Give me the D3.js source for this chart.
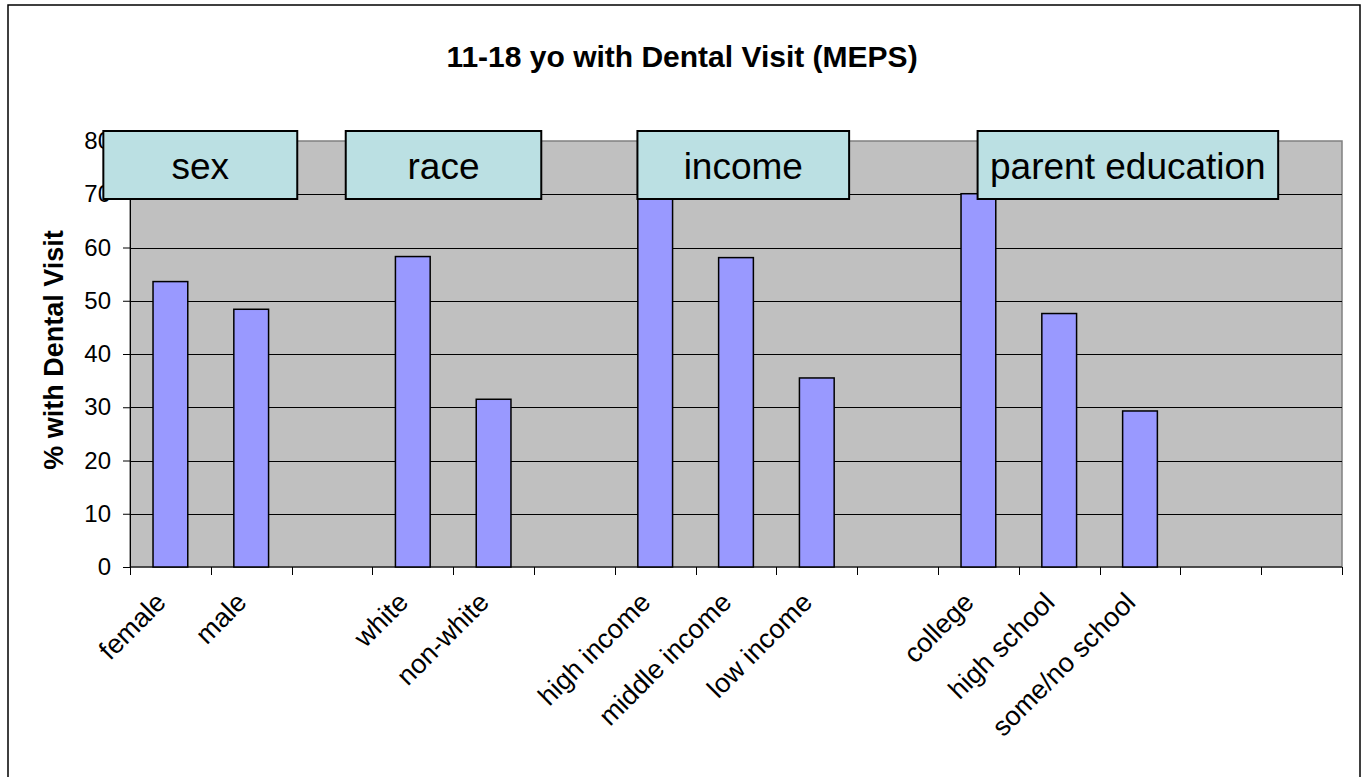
<!DOCTYPE html>
<meta charset="utf-8">
<style>
  body { margin: 0; background: #fff; }
  text { font-family: Arial, "Liberation Sans", sans-serif; }
</style>
<script src="https://d3js.org/d3.v7.min.js"></script>
<div id="chart"></div>
<script>

  // categories (empty slots keep the gaps between groups)
  var categories = ["female", "male", "", "white", "non-white", "",
                    "high income", "middle income", "low income", "",
                    "college", "high school", "some/no school", "", ""];
  var values = [53.6, 48.4, null, 58.3, 31.5, null,
                72, 58.1, 35.5, null,
                70.1, 47.6, 29.3, null, null];
  var yTicks = [0, 10, 20, 30, 40, 50, 60, 70, 80];

  // group boxes: label and the slots they sit over
  var groups = ["sex", "race", "income", "parent education"];
  var groupStart = [-0.33, 2.67, 6.28, 10.49];
  var groupEnd = [2.07, 5.09, 8.9, 14.21];

  var W = 1362, H = 777;
  var margin = {top: 141, right: 20, bottom: 210, left: 130};
  var width = 1342 - margin.left,
      height = 567 - margin.top;

  var svg = d3.select("#chart")
    .append("svg")
      .attr("width", W)
      .attr("height", H);

  // outer chart border
  svg.append("rect")
    .attr("x", 8).attr("y", 5)
    .attr("width", 1352).attr("height", 780)
    .attr("fill", "#fff")
    .attr("stroke", "#000")
    .attr("stroke-width", 1.5);

  svg.append("text")
    .attr("x", 682)
    .attr("y", 67)
    .attr("text-anchor", "middle")
    .style("font-weight", "bold")
    .style("font-size", "30px")
    .text("11-18 yo with Dental Visit (MEPS)");

  var g = svg.append("g")
    .attr("transform", "translate(" + margin.left + "," + margin.top + ")");

  var x = d3.scaleBand()
    .domain(d3.range(categories.length))
    .range([0, width])
    .paddingInner(0.57)
    .paddingOuter(0.285);

  var slot = d3.scaleLinear()
    .domain([0, categories.length])
    .range([0, width]);

  var y = d3.scaleLinear()
    .domain([0, 80])
    .range([height, 0]);

  // plot area
  g.append("rect")
    .attr("width", width)
    .attr("height", height)
    .attr("fill", "#c0c0c0")
    .attr("stroke", "#808080")
    .attr("stroke-width", 1.5);

  // gridlines
  g.append("g")
    .selectAll("line")
    .data(yTicks.slice(1, -1))
    .enter()
    .append("line")
      .attr("x1", 0)
      .attr("x2", width)
      .attr("y1", function (d) { return Math.round(y(d)) + 0.5; })
      .attr("y2", function (d) { return Math.round(y(d)) + 0.5; })
      .attr("stroke", "#000")
      .attr("stroke-width", 1);

  // y axis
  var yAxis = g.append("g")
    .call(d3.axisLeft(y).tickValues(yTicks).tickSize(7).tickPadding(12));
  yAxis.select(".domain").attr("stroke", "#000").attr("stroke-width", 1);
  yAxis.selectAll("text").style("font-size", "24px").attr("fill", "#000")
    .attr("font-family", "Arial, 'Liberation Sans', sans-serif");

  // x axis ticks at slot boundaries
  var xAxis = g.append("g")
    .attr("transform", "translate(0," + height + ")");
  xAxis.append("line")
    .attr("x1", 0).attr("x2", width)
    .attr("stroke", "#000");
  xAxis.selectAll(".tk")
    .data(d3.range(categories.length + 1))
    .enter()
    .append("line")
      .attr("class", "tk")
      .attr("x1", function (d) { return Math.round(slot(d)) + 0.5; })
      .attr("x2", function (d) { return Math.round(slot(d)) + 0.5; })
      .attr("y1", 0)
      .attr("y2", 8)
      .attr("stroke", "#000");

  xAxis.selectAll(".lbl")
    .data(categories)
    .enter()
    .append("text")
      .attr("class", "lbl")
      .attr("text-anchor", "end")
      .attr("transform", function (d, i) {
        return "translate(" + (x(i) + x.bandwidth() / 2 - 3) + ",37)rotate(-45)";
      })
      .style("font-size", "27px")
      .text(function (d) { return d; });

  // bars
  g.append("g")
    .selectAll("rect")
    .data(values.map(function (v, i) { return {i: i, v: v}; })
                .filter(function (d) { return d.v != null; }))
    .enter()
    .append("rect")
      .attr("x", function (d) { return x(d.i); })
      .attr("y", function (d) { return y(d.v); })
      .attr("width", x.bandwidth())
      .attr("height", function (d) { return height - y(d.v); })
      .attr("fill", "#9999ff")
      .attr("stroke", "#000")
      .attr("stroke-width", 1.5);

  // group label boxes
  var boxes = g.append("g")
    .selectAll("g")
    .data(groups)
    .enter()
    .append("g");
  boxes.append("rect")
    .attr("x", function (d, i) { return slot(groupStart[i]); })
    .attr("y", -10)
    .attr("width", function (d, i) { return slot(groupEnd[i]) - slot(groupStart[i]); })
    .attr("height", 68)
    .attr("fill", "#bbe0e3")
    .attr("stroke", "#000")
    .attr("stroke-width", 2);
  boxes.append("text")
    .attr("x", function (d, i) { return (slot(groupStart[i]) + slot(groupEnd[i])) / 2; })
    .attr("y", 38)
    .attr("text-anchor", "middle")
    .style("font-size", "37px")
    .text(function (d) { return d; });

  // y axis title
  svg.append("text")
    .attr("transform", "translate(63,350)rotate(-90)")
    .attr("text-anchor", "middle")
    .style("font-weight", "bold")
    .style("font-size", "27px")
    .text("% with Dental Visit");

</script>
